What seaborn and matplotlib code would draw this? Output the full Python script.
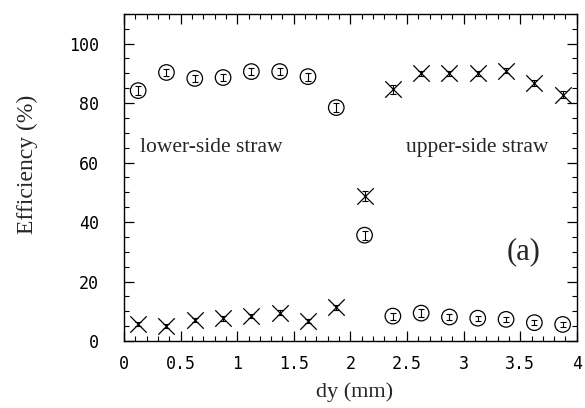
import numpy as np
import pandas as pd
import matplotlib
matplotlib.use("Agg")
import matplotlib.pyplot as plt
import seaborn as sns
from matplotlib.ticker import MultipleLocator

dy = [0.125, 0.375, 0.625, 0.875, 1.125, 1.375, 1.625, 1.875,
      2.125, 2.375, 2.625, 2.875, 3.125, 3.375, 3.625, 3.875]
lower_eff = [84.2, 90.3, 88.3, 88.6, 90.6, 90.6, 88.9, 78.5,
             35.6, 8.4, 9.4, 8.1, 7.7, 7.3, 6.2, 5.6]
lower_err = [1.5, 1.3, 1.3, 1.3, 1.2, 1.2, 1.3, 1.4,
             1.5, 1.2, 1.3, 1.0, 0.8, 0.8, 0.8, 0.8]
upper_eff = [5.7, 5.0, 7.0, 7.6, 8.4, 9.6, 6.8, 11.3,
             48.8, 84.6, 90.0, 90.0, 90.0, 90.9, 86.7, 82.8]
upper_err = [0.6, 0.6, 0.7, 0.7, 0.7, 0.8, 0.7, 0.8,
             1.8, 1.4, 0.8, 0.8, 0.8, 0.8, 1.0, 1.2]
xtick_vals = [0, 0.5, 1, 1.5, 2, 2.5, 3, 3.5, 4]
xtick_labels = ["0", "0.5", "1", "1.5", "2", "2.5", "3", "3.5", "4"]
ytick_vals = [0, 20, 40, 60, 80, 100]

sns.set_theme(style="ticks")
plt.rcParams['font.family'] = ['DejaVu Sans']

fig = plt.figure(figsize=(5.85, 4.08), dpi=100)
ax = fig.add_axes([0.212, 0.164, 0.774, 0.802])

df = pd.DataFrame({"dy": dy, "lower": lower_eff, "upper": upper_eff})

sns.scatterplot(data=df, x="dy", y="lower", marker="o", s=125,
                facecolors="none", edgecolors="black", linewidth=0.9, ax=ax, zorder=3)
sns.scatterplot(data=df, x="dy", y="upper", marker="x", s=140,
                color="black", linewidth=0.9, ax=ax, zorder=3)
ax.errorbar(dy, lower_eff, yerr=lower_err, fmt="none", ecolor="black",
            elinewidth=0.8, capsize=2.5, capthick=0.8, zorder=4)
ax.errorbar(dy, upper_eff, yerr=upper_err, fmt="none", ecolor="black",
            elinewidth=0.8, capsize=2.5, capthick=0.8, zorder=4)

ax.set_xlim(0, 4)
ax.set_ylim(0, 110)
ax.xaxis.set_minor_locator(MultipleLocator(0.1))
ax.yaxis.set_minor_locator(MultipleLocator(5))
ax.set_xticks(xtick_vals)
ax.set_xticklabels(xtick_labels)
ax.set_yticks(ytick_vals)
mono = ["DejaVu Sans Mono"]
for lab in ax.get_xticklabels() + ax.get_yticklabels():
    lab.set_family(mono)
ax.tick_params(which="both", direction="in", top=True, right=True,
               labelsize=12, colors="black")
ax.tick_params(axis="x", pad=10)
ax.tick_params(axis="y", pad=18)
ax.tick_params(which="major", length=7, width=0.9)
ax.tick_params(which="minor", length=3.5, width=0.8)
for s in ax.spines.values():
    s.set_linewidth(1.0)
    s.set_color("black")

serif = ["Liberation Serif", "DejaVu Serif"]
ax.set_xlabel("dy (mm)", fontsize=16, family=serif)
ax.set_ylabel("Efficiency (%)", fontsize=17, family=serif)
ax.xaxis.set_label_coords(0.51, -0.125)
ax.yaxis.set_label_coords(-0.19, 0.54)

ax.text(0.14, 65, "lower-side straw", fontsize=15.5, family=serif, va="center", ha="left")
ax.text(3.75, 65, "upper-side straw", fontsize=15.5, family=serif, va="center", ha="right")
ax.text(3.53, 30, "(a)", fontsize=22, family=serif, va="center", ha="center")

fig.savefig("out.png", dpi=100)
